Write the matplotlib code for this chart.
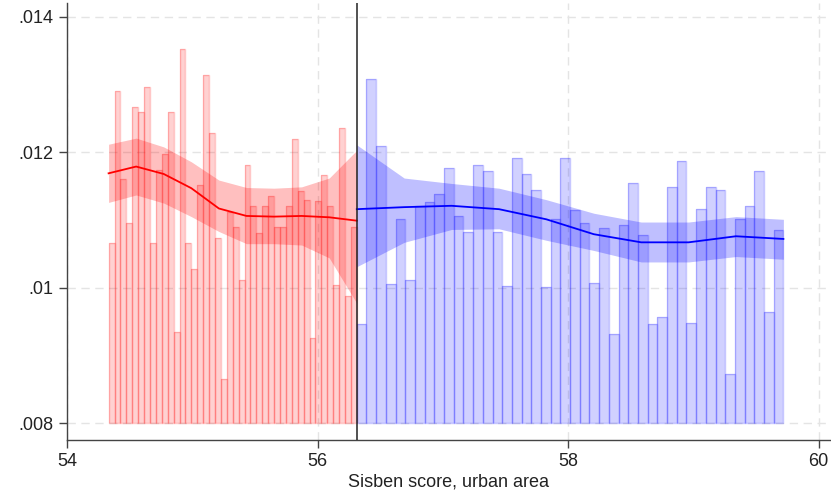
import numpy as np
import matplotlib
matplotlib.use("Agg")
import matplotlib.pyplot as plt

plt.rcParams['font.family'] = ['Liberation Sans', 'DejaVu Sans']

# ---------------- data ----------------
cutoff = 56.313
red_range = (54.332, cutoff)
blue_range = (cutoff, 59.718)

red_density = [0.01066, 0.01290, 0.01160, 0.01096, 0.01267, 0.01260, 0.01297,
               0.01066, 0.01174, 0.01197, 0.01260, 0.00934, 0.01352, 0.01066,
               0.01027, 0.01151, 0.01314, 0.01228, 0.01073, 0.00865, 0.01112,
               0.01089, 0.01012, 0.01182, 0.01120, 0.01081, 0.01120, 0.01135,
               0.01089, 0.01089, 0.01120, 0.01220, 0.01143, 0.01130, 0.00926,
               0.01128, 0.01166, 0.01120, 0.01004, 0.01236, 0.00988, 0.01089]

blue_density = [0.00946, 0.01309, 0.01210, 0.01006, 0.01101, 0.01011, 0.01120,
                0.01126, 0.01139, 0.01177, 0.01106, 0.01082, 0.01182, 0.01172,
                0.01082, 0.01002, 0.01191, 0.01168, 0.01144, 0.01001, 0.01101,
                0.01191, 0.01115, 0.01095, 0.01007, 0.01088, 0.00931, 0.01092,
                0.01154, 0.01078, 0.00946, 0.00956, 0.01149, 0.01187, 0.00948,
                0.01116, 0.01149, 0.01144, 0.00872, 0.01101, 0.01121, 0.01172,
                0.00964, 0.01085]

red_fit = [0.01169, 0.01179, 0.01168, 0.01147, 0.01117, 0.01106, 0.01105,
           0.01106, 0.01104, 0.01099]
red_hi = [0.01212, 0.01221, 0.01208, 0.01186, 0.01159, 0.01148, 0.01147,
          0.01149, 0.01162, 0.01203]
red_lo = [0.01126, 0.01137, 0.01125, 0.01105, 0.01083, 0.01065, 0.01065,
          0.01063, 0.01044, 0.00977]

blue_fit = [0.01116, 0.01119, 0.01121, 0.01116, 0.01101, 0.01079, 0.01067,
            0.01067, 0.01076, 0.01072]
blue_hi = [0.01211, 0.01162, 0.01154, 0.01147, 0.01130, 0.01110, 0.01097,
           0.01097, 0.01105, 0.01101]
blue_lo = [0.01031, 0.01067, 0.01086, 0.01087, 0.01070, 0.01055, 0.01038,
           0.01038, 0.01046, 0.01042]

x_ticks = [54, 56, 58, 60]
y_ticks = [0.008, 0.010, 0.012, 0.014]
y_ticklabels = ['.008', '.01', '.012', '.014']
x_label = 'Sisben score, urban area'
bar_base = 0.008

# ---------------- figure ----------------
fig = plt.figure(figsize=(8.31, 4.93), dpi=100)
ax = fig.add_axes([67/831, 1-440/493, (830-67)/831, (440-3)/493])

def draw_side(rng, dens, fit, hi, lo, col):
    edges = np.linspace(rng[0], rng[1], len(dens) + 1)
    w = edges[1] - edges[0]
    heights = np.array(dens) - bar_base
    ax.bar(edges[:-1], heights, width=w, bottom=bar_base, align='edge',
           color=col, alpha=0.18, edgecolor='none', zorder=2)
    ax.bar(edges[:-1], heights, width=w, bottom=bar_base, align='edge',
           facecolor='none', edgecolor=col, alpha=0.22, linewidth=1.0, zorder=2)
    gx = np.linspace(rng[0], rng[1], len(fit))
    ax.fill_between(gx, lo, hi, color=col, alpha=0.25, linewidth=0, zorder=3)
    ax.plot(gx, fit, color=col, linewidth=1.3, zorder=4)

draw_side(red_range, red_density, red_fit, red_hi, red_lo, '#ff0000')
draw_side(blue_range, blue_density, blue_fit, blue_hi, blue_lo, '#0000ff')

ax.axvline(cutoff, color='#222222', linewidth=1.1, zorder=5)

ax.set_xlim(54, 60.09)
ax.set_ylim(0.008 - 17/67670, 0.014 + 14/67670)
ax.set_xticks(x_ticks)
ax.set_xticklabels([str(t) for t in x_ticks])
ax.set_yticks(y_ticks)
ax.set_yticklabels(y_ticklabels)
ax.grid(True, color='#e4e4e4', linestyle=(0, (6, 4)), linewidth=1.0, zorder=0)
ax.set_axisbelow(True)

for s in ['top', 'right']:
    ax.spines[s].set_visible(False)
for s in ['left', 'bottom']:
    ax.spines[s].set_color('#444444')
    ax.spines[s].set_linewidth(1.0)

ax.tick_params(axis='both', which='major', length=6, width=1.0, color='#444444',
               labelsize=13, labelcolor='#222222', direction='out')
ax.tick_params(axis='y', pad=4)
ax.tick_params(axis='x', pad=3)
ax.set_xlabel(x_label, fontsize=13, color='#222222', labelpad=3)

fig.savefig('out.png', dpi=100)
